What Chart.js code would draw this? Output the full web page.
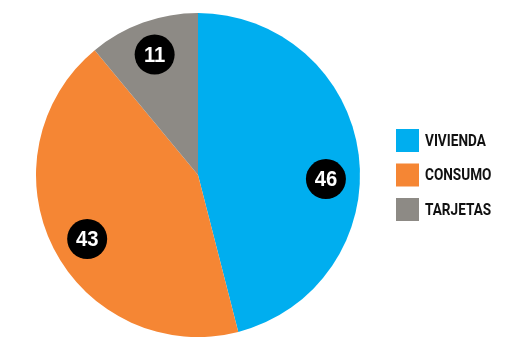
<!DOCTYPE html>
<html><head><meta charset="utf-8">
<script src="https://cdn.jsdelivr.net/npm/chart.js@4"></script>
<style>html,body{margin:0;padding:0;background:#fff}#wrap{width:530px;height:350px;position:relative}</style>
</head><body><div id="wrap"><canvas id="c" width="530" height="350"></canvas></div>
<script>
const categories = ["VIVIENDA", "CONSUMO", "TARJETAS"];
const values = [46, 43, 11];
const colors = ["#00AEEF", "#F58634", "#8D8A85"];

const labelPlugin = {
  id: 'circleLabels',
  afterDatasetsDraw(chart, args, opts) {
    const ctx = chart.ctx;
    const meta = chart.getDatasetMeta(0);
    meta.data.forEach((arc, i) => {
      const p = arc.getProps(['x','y','startAngle','endAngle','outerRadius'], true);
      const a = (p.startAngle + p.endAngle) / 2 + (opts.angleNudge[i] || 0) * Math.PI / 180;
      const d = p.outerRadius * opts.dist;
      const x = p.x + Math.cos(a) * d, y = p.y + Math.sin(a) * d;
      ctx.save();
      ctx.beginPath(); ctx.arc(x, y, 20, 0, Math.PI * 2); ctx.fillStyle = '#000'; ctx.fill();
      ctx.fillStyle = '#fff'; ctx.font = 'bold 22px "Liberation Sans", Arial, sans-serif';
      ctx.textAlign = 'center'; ctx.textBaseline = 'middle';
      ctx.translate(x, y + 1); ctx.scale(0.92, 1);
      ctx.fillText(String(chart.data.datasets[0].data[i]), 0, 0);
      ctx.restore();
    });
  }
};

const legendPlugin = {
  id: 'sideLegend',
  afterDraw(chart) {
    const ctx = chart.ctx;
    chart.data.labels.forEach((lab, i) => {
      const y = 129 + i * 34.5;
      ctx.save();
      ctx.fillStyle = chart.data.datasets[0].backgroundColor[i];
      ctx.fillRect(396, y, 23, 23);
      ctx.fillStyle = '#111';
      ctx.font = 'bold 17px Roboto, sans-serif';
      ctx.textBaseline = 'middle'; ctx.textAlign = 'left';
      ctx.translate(425, y + 12.5); ctx.scale(0.8, 1);
      ctx.fillText(lab, 0, 0);
      ctx.restore();
    });
  }
};

new Chart(document.getElementById('c'), {
  type: 'pie',
  data: { labels: categories, datasets: [{ data: values, backgroundColor: colors, borderWidth: 0 }] },
  options: {
    responsive: false, animation: false,
    layout: { padding: { left: 36, top: 13, right: 170, bottom: 13 } },
    plugins: { legend: { display: false }, tooltip: { enabled: false },
      circleLabels: { dist: 0.79, angleNudge: [9, -3, 0] } }
  },
  plugins: [labelPlugin, legendPlugin]
});
</script></body></html>
